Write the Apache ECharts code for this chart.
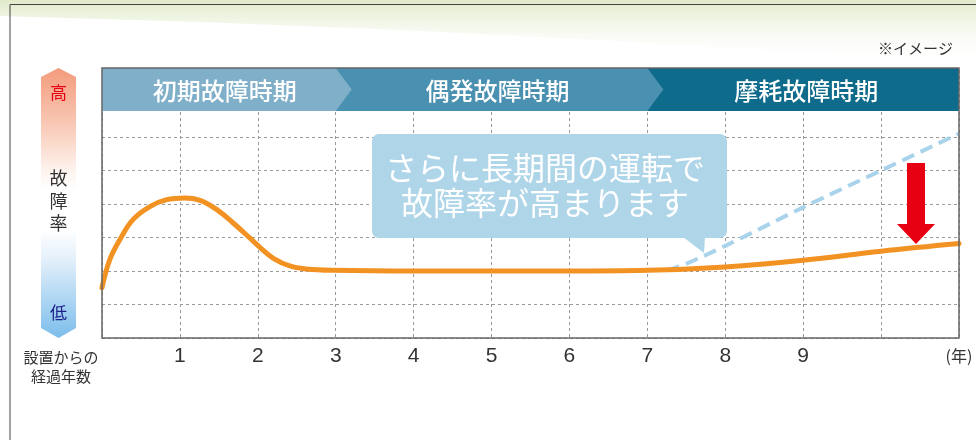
<!DOCTYPE html>
<html><head><meta charset="utf-8">
<script src="https://cdn.jsdelivr.net/npm/echarts@6/dist/echarts.min.js"></script>
<style>html,body{margin:0;padding:0;background:#fff}#c{width:976px;height:440px}</style>
</head><body><div id="c"></div>
<script>
// ---- data ----
const years       = [0, 0.1, 0.23, 0.4, 0.62, 0.83, 1.06, 1.26, 1.47, 1.68, 1.9, 2.03, 2.2, 2.41, 2.62, 2.97, 4, 5, 6, 7, 8, 9, 10, 11];
const failureRate = [1.5, 2.34, 2.94, 3.54, 3.93, 4.13, 4.18, 4.11, 3.84, 3.44, 2.98, 2.70, 2.38, 2.15, 2.06, 2.02, 2.0, 2.0, 2.0, 2.02, 2.12, 2.32, 2.59, 2.82];
const longYears   = [7.25, 7.5, 8, 9, 10, 11];
const longRate    = [2.02, 2.22, 2.75, 3.9, 5.0, 6.1];
const xTickLabels = ['', '1', '2', '3', '4', '5', '6', '7', '8', '9', '', '(年)'];
const phases      = ['初期故障時期', '偶発故障時期', '摩耗故障時期'];
const phaseBounds = [0, 3, 7, 11];
const bubbleText  = 'さらに長期間の運転で\n故障率が高まります';
const yLabelHigh  = '高';
const yLabelMid   = '故障率';
const yLabelLow   = '低';
const xAxisNote   = '設置からの\n経過年数';
const imageNote   = '※イメージ';

const CJK = '"Noto Sans CJK JP", sans-serif';
const chart = echarts.init(document.getElementById('c'), null, {renderer: 'canvas'});

const option = {
  animation: false,
  backgroundColor: '#fff',
  grid: {left: 102, right: 17, top: 70, bottom: 102, show: false},
  xAxis: {
    type: 'value', min: 0, max: 11, interval: 1,
    axisLine: {show: false}, axisTick: {show: false},
    splitLine: {show: true, lineStyle: {color: '#9a9a9a', type: [3, 3], width: 1}},
    axisLabel: {
      show: true, showMinLabel: true, showMaxLabel: true, margin: 8,
      color: '#333', fontSize: 21, fontFamily: '"Liberation Sans", Arial, sans-serif',
      formatter: function (v) {
        const s = xTickLabels[Math.round(v)] || '';
        return s === '(年)' ? '{u|' + s + '}' : s;
      },
      rich: {u: {fontSize: 16, fontFamily: CJK, color: '#333', padding: [2, 0, 0, 0]}}
    }
  },
  yAxis: {
    type: 'value', min: 0, max: 8, interval: 1,
    axisLine: {show: false}, axisTick: {show: false}, axisLabel: {show: false},
    splitLine: {show: true, lineStyle: {color: '#9a9a9a', type: [3, 3], width: 1}}
  },
  series: [
    {
      type: 'line', name: 'long', z: 2,
      data: longYears.map((x, i) => [x, longRate[i]]),
      smooth: 0.3, showSymbol: false,
      lineStyle: {color: '#A9D3EA', width: 4, type: [13, 7]}
    },
    {
      type: 'line', name: 'rate', z: 3,
      data: years.map((x, i) => [x, failureRate[i]]),
      smooth: 0.4, showSymbol: false,
      lineStyle: {color: '#F29223', width: 5, cap: 'round'}
    }
  ]
};
chart.setOption(option);

const px = v => chart.convertToPixel({xAxisIndex: 0}, v);
const py = v => chart.convertToPixel({yAxisIndex: 0}, v);
const xs = phaseBounds.map(px);
const yBottom = py(0);
const bTop = 68, bBot = 111, bMid = (bTop + bBot) / 2, tip = 16;
const bandColors = ['#80AFC9', '#4A90B0', '#0F6B8B'];

const g = [];
// background wash
g.push({type: 'polygon', z: -10, silent: true,
  shape: {points: [[0, 0], [976, 0], [976, 64], [800, 52], [600, 40], [400, 30], [200, 22], [0, 16]]},
  style: {fill: {type: 'linear', x: 0, y: 0, x2: 0, y2: 1, colorStops: [
    {offset: 0, color: 'rgba(222,233,198,0.95)'}, {offset: 1, color: 'rgba(255,255,255,0)'}]}}});
// page border
g.push({type: 'polyline', z: 1, shape: {points: [[10, 440], [10, 4.5], [976, 4.5]]},
  style: {stroke: '#444', lineWidth: 1, fill: null}});
// phase bands
for (let i = 2; i >= 0; i--) {
  const a = xs[i], b = xs[i + 1];
  const pts = i < 2
    ? [[a, bTop], [b, bTop], [b + tip, bMid], [b, bBot], [a, bBot]]
    : [[a, bTop], [b, bTop], [b, bBot], [a, bBot]];
  g.push({type: 'polygon', z: 20 + (2 - i), shape: {points: pts}, style: {fill: bandColors[i]}});
  g.push({type: 'text', z: 30, style: {text: phases[i], x: (a + b) / 2 + (i < 2 ? 6 : 3), y: bMid + 1,
    align: 'center', verticalAlign: 'middle', fill: '#fff', fontSize: 24, fontWeight: 500, fontFamily: CJK}});
}
// plot border
g.push({type: 'rect', z: 31, shape: {x: xs[0], y: bTop, width: xs[3] - xs[0], height: yBottom - bTop},
  style: {fill: null, stroke: '#666', lineWidth: 1.5}});
// left gradient arrow
g.push({type: 'polygon', z: 5,
  shape: {points: [[58.5, 68], [76, 77], [76, 328], [58.5, 338], [41, 328], [41, 77]]},
  style: {fill: {type: 'linear', x: 0, y: 0, x2: 0, y2: 1, colorStops: [
    {offset: 0, color: '#F39B7C'}, {offset: 0.2, color: '#F8C6B2'}, {offset: 0.38, color: '#FEF3EE'},
    {offset: 0.45, color: '#FFFFFF'}, {offset: 0.6, color: '#FFFFFF'}, {offset: 0.7, color: '#E6F1FB'},
    {offset: 1, color: '#7BBDEB'}]}}});
g.push({type: 'text', z: 6, style: {text: yLabelHigh, x: 58.5, y: 93, align: 'center', verticalAlign: 'middle',
  fill: '#E60012', fontSize: 17, fontFamily: CJK}});
g.push({type: 'text', z: 6, style: {text: yLabelMid.split('').join('\n'), x: 58.5, y: 201, align: 'center', verticalAlign: 'middle',
  fill: '#333', fontSize: 18, lineHeight: 22.5, fontFamily: CJK}});
g.push({type: 'text', z: 6, style: {text: yLabelLow, x: 58.5, y: 313, align: 'center', verticalAlign: 'middle',
  fill: '#1D2088', fontSize: 17, fontFamily: CJK}});
g.push({type: 'text', z: 6, style: {text: xAxisNote, x: 61, y: 367, align: 'center', verticalAlign: 'middle',
  fill: '#333', fontSize: 15, lineHeight: 19, fontFamily: CJK}});
g.push({type: 'text', z: 6, style: {text: imageNote, x: 953, y: 48, align: 'right', verticalAlign: 'middle',
  fill: '#333', fontSize: 15, fontFamily: CJK}});
// speech bubble
g.push({type: 'rect', z: 40, shape: {x: 372, y: 134, width: 355, height: 104, r: 7}, style: {fill: '#AFD5E9'}});
g.push({type: 'polygon', z: 40, shape: {points: [[683, 237], [705, 237], [704, 253]]}, style: {fill: '#AFD5E9'}});
g.push({type: 'text', z: 41, style: {text: bubbleText, x: 545, y: 185, align: 'center', verticalAlign: 'middle',
  fill: '#fff', fontSize: 32, lineHeight: 35, fontFamily: CJK}});
// red arrow
g.push({type: 'polygon', z: 42,
  shape: {points: [[907, 163], [925, 163], [925, 224], [935, 224], [916, 244], [897, 224], [907, 224]]},
  style: {fill: '#E60012'}});

chart.setOption({graphic: g});
</script>
</body></html>
